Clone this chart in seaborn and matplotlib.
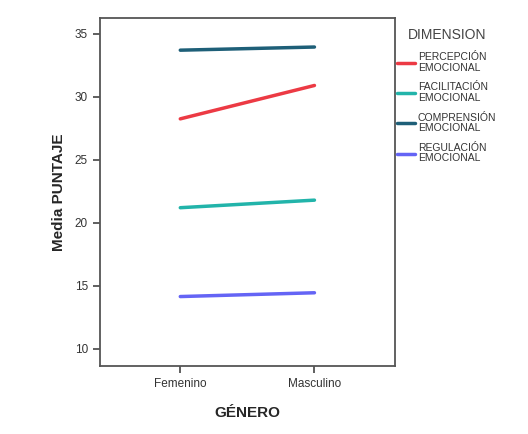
import pandas as pd
import seaborn as sns
import matplotlib.pyplot as plt

# Datos
genero = ["Femenino", "Masculino"]
dimensiones = ["PERCEPCIÓN\nEMOCIONAL", "FACILITACIÓN\nEMOCIONAL",
               "COMPRENSIÓN\nEMOCIONAL", "REGULACIÓN\nEMOCIONAL"]
percepcion = [28.25, 30.9]
facilitacion = [21.2, 21.8]
comprension = [33.7, 33.95]
regulacion = [14.15, 14.45]
colores = ["#ec3a44", "#22b4aa", "#1e5f78", "#6464f5"]

df = pd.DataFrame({
    "GÉNERO": genero * 4,
    "DIMENSION": [d for d in dimensiones for _ in genero],
    "Media PUNTAJE": percepcion + facilitacion + comprension + regulacion,
})

sns.set_style("white")
plt.rcParams["font.family"] = ["Liberation Sans", "DejaVu Sans"]

fig = plt.figure(figsize=(5.28, 4.34), dpi=100)
ax = fig.add_axes([0.189, 0.157, 0.559, 0.802])

sns.lineplot(data=df, x="GÉNERO", y="Media PUNTAJE", hue="DIMENSION",
             palette=colores, linewidth=2.5, ax=ax)

ax.set_xlim(-0.6, 1.6)
ax.set_ylim(8.65, 36.27)
ax.set_yticks([10, 15, 20, 25, 30, 35])
ax.tick_params(axis="both", direction="out", length=5, width=1.2,
               color="#444444", labelsize=8.5, labelcolor="#333333", bottom=True, left=True)
for s in ax.spines.values():
    s.set_color("#555555")
    s.set_linewidth(1.3)

ax.set_xlabel("GÉNERO", fontsize=11, fontweight="bold", labelpad=12)
ax.set_ylabel("Media PUNTAJE", fontsize=11, fontweight="bold", labelpad=6)

leg = ax.legend(title="DIMENSION", loc="upper left", bbox_to_anchor=(1.0, 0.976),
                borderaxespad=0, borderpad=0.2, frameon=False, fontsize=7.5,
                title_fontsize=10, handlelength=1.7, labelspacing=0.95,
                handletextpad=0.3)
for t in leg.get_texts():
    t.set_linespacing(1.05)
    t.set_color("#333333")
leg.get_title().set_color("#444444")

fig.savefig("out.png", dpi=100)
